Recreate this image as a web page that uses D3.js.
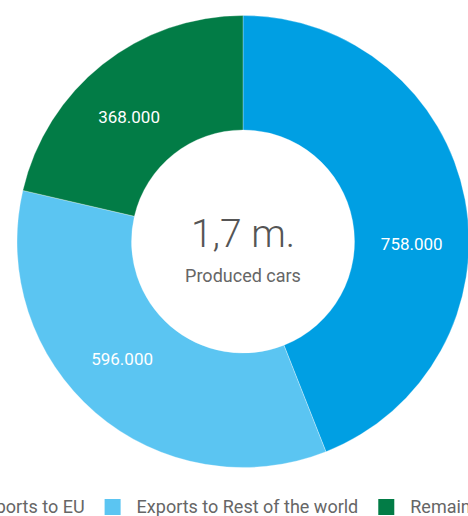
<!DOCTYPE html>
<html>
<head>
<meta charset="utf-8">
<script src="https://cdn.jsdelivr.net/npm/d3@7"></script>
<style>
  html, body { margin: 0; padding: 0; background: #fff; overflow: hidden; }
  svg { display: block; font-family: Roboto, "Noto Sans", sans-serif; }
</style>
</head>
<body>
<div id="chart"></div>
<script>
"use strict";

const categories = ["Exports to EU", "Exports to Rest of the world", "Remaining in UK"];
const values = [758000, 596000, 368000];
const valueLabels = ["758.000", "596.000", "368.000"];
const centerTitle = "1,7 m.";
const centerSubtitle = "Produced cars";

const colors = ["#009fe3", "#5bc5f2", "#027c46"];

const width = 468;
const height = 516;
const cx = 243;
const cy = 241.5;
const outerR = 226;
const innerR = 111.5;
// angular nudge (degrees) for value labels, as in the original
const labelShift = [11.5, 5, -4];

const data = categories.map((c, i) => ({ name: c, value: values[i], label: valueLabels[i], color: colors[i] }));

const svg = d3.select("#chart").append("svg")
              .attr("width", width)
              .attr("height", height);

const pie = d3.pie()
              .sort(null)
              .value(d => d.value);
const arc = d3.arc()
              .innerRadius(innerR)
              .outerRadius(outerR);

const g = svg.append("g")
             .attr("transform", `translate(${cx}, ${cy})`);

const arcs = pie(data);

g.selectAll("path.slice")
 .data(arcs)
 .join("path")
 .attr("class", "slice")
 .attr("d", arc)
 .attr("fill", d => d.data.color)
 .attr("stroke", "#fff")
 .attr("stroke-width", 0.3);

const labelR = (innerR + outerR) / 2;
const labelAngle = (d, i) => (d.startAngle + d.endAngle) / 2 + labelShift[i] * Math.PI / 180;
g.selectAll("text.value")
 .data(arcs)
 .join("text")
 .attr("class", "value")
 .attr("x", (d, i) => labelR * Math.sin(labelAngle(d, i)))
 .attr("y", (d, i) => -labelR * Math.cos(labelAngle(d, i)))
 .attr("text-anchor", "middle")
 .attr("dominant-baseline", "central")
 .attr("fill", "#fff")
 .style("font-size", "17px")
 .text(d => d.data.label);

g.append("text")
 .attr("y", 5)
 .attr("text-anchor", "middle")
 .attr("fill", "#555")
 .style("font-size", "39px")
 .style("font-weight", 300)
 .text(centerTitle);

g.append("text")
 .attr("y", 40)
 .attr("text-anchor", "middle")
 .attr("fill", "#666")
 .style("font-size", "18px")
 .text(centerSubtitle);

// legend, centred under the chart
const swatch = 16;
const swatchGap = 16;
const itemGap = 20;
const legend = svg.append("g");
const items = legend.selectAll("g.item")
                    .data(data)
                    .join("g")
                    .attr("class", "item");
items.append("rect")
     .attr("width", swatch)
     .attr("height", swatch)
     .attr("y", -swatch + 2)
     .attr("fill", d => d.color);
items.append("text")
     .attr("x", swatch + swatchGap)
     .attr("fill", "#666")
     .style("font-size", "18px")
     .text(d => d.name);

let offset = 0;
items.each(function () {
    const item = d3.select(this);
    item.attr("transform", `translate(${offset}, 0)`);
    offset += swatch + swatchGap + item.select("text").node().getComputedTextLength() + itemGap;
});
const total = offset - itemGap;
legend.attr("transform", `translate(${cx - total / 2}, 513)`);
</script>
</body>
</html>
